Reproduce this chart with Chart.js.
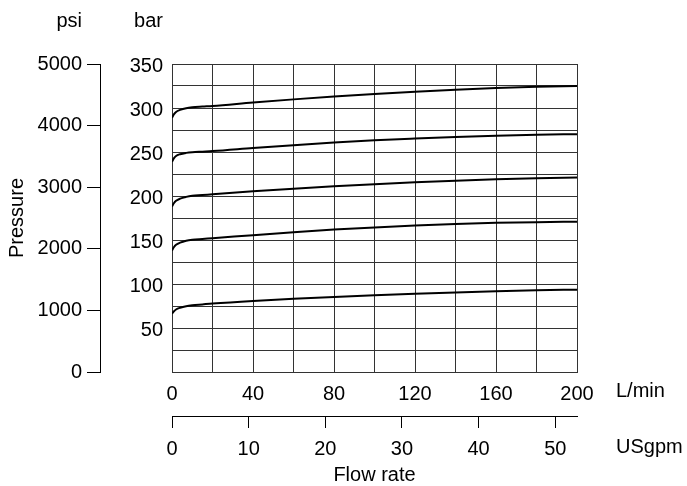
<!DOCTYPE html>
<html>
<head>
<meta charset="utf-8">
<script src="https://cdn.jsdelivr.net/npm/chart.js@4.4.1/dist/chart.umd.min.js"></script>
<style>
  html, body { margin: 0; padding: 0; background: #fff; }
  #wrap { width: 687px; height: 486px; position: relative; }
</style>
</head>
<body>
<div id="wrap"><canvas id="c"></canvas></div>
<script>
// Flow rate sample points (L/min)
const flowLpm = [0, 1, 2, 4, 7, 10, 15, 20, 40, 60, 80, 100, 120, 140, 160, 180, 200];
// Pressure curves (bar)
const curve300 = [289, 293, 295.5, 297.8, 299.8, 300.8, 301.6, 302.3, 306.2, 309.8, 313, 315.9, 318.5, 320.8, 322.8, 324.2, 325];
const curve250 = [239, 243, 245.5, 247.5, 249, 249.8, 250.4, 251, 254.5, 257.8, 260.8, 263.3, 265.3, 267.1, 268.6, 269.7, 270.3];
const curve200 = [188, 192, 194.5, 197, 199, 200.2, 201, 202, 205.3, 208.3, 211, 213.4, 215.5, 217.4, 218.9, 220.1, 221];
const curve150 = [138, 142, 144.5, 147, 149.2, 150.3, 151.2, 152, 155.5, 158.8, 161.8, 164.3, 166.4, 168.2, 169.5, 170.3, 170.8];
const curve75  = [66.5, 69, 71, 73, 74.8, 75.8, 76.8, 77.8, 80.8, 83.2, 85.3, 87.2, 88.9, 90.4, 91.7, 92.8, 93.6];

// Axis ranges / tick labels
const lpmRange = [0, 200];
const lpmGridStep = 20;
const lpmLabelStep = 40;
const barRange = [0, 350];
const barGridStep = 25;
const barLabelStep = 50;
const psiRange = [0, 5000];
const psiStep = 1000;
const usgpmPerLpm = 1 / 3.785411784;
const usgpmStep = 10;

const unitLabels = { psi: 'psi', bar: 'bar', lpm: 'L/min', usgpm: 'USgpm' };
const axisTitles = { pressure: 'Pressure', flow: 'Flow rate' };

const FONT = "'Liberation Sans', Arial, Helvetica, sans-serif";
const curves = [curve300, curve250, curve200, curve150, curve75];

const datasets = curves.map(c => ({
  data: flowLpm.map((x, i) => ({ x: x, y: c[i] })),
  borderColor: '#000',
  borderWidth: 2,
  pointRadius: 0,
  fill: false,
  cubicInterpolationMode: 'monotone',
  xAxisID: 'x',
  yAxisID: 'y'
}));

const unitPlugin = {
  id: 'units',
  afterDraw(chart) {
    const ctx = chart.ctx;
    const ca = chart.chartArea;
    const s = chart.scales;
    ctx.save();
    ctx.fillStyle = '#000';
    ctx.font = '20px ' + FONT;
    ctx.textBaseline = 'alphabetic';
    ctx.textAlign = 'right';
    ctx.fillText(unitLabels.psi, s.psi.right - 18, ca.top - 37.5);
    ctx.fillText(unitLabels.bar, s.y.right - 9, ca.top - 37.5);
    ctx.textAlign = 'left';
    ctx.fillText(unitLabels.lpm, ca.right + 39, s.x.top + 25);
    ctx.fillText(unitLabels.usgpm, ca.right + 39, s.gpm.top + 37);
    ctx.restore();
  }
};

Chart.defaults.font.family = FONT;
Chart.defaults.font.size = 20;
Chart.defaults.color = '#000';

new Chart(document.getElementById('c'), {
  type: 'line',
  data: { datasets },
  plugins: [unitPlugin],
  options: {
    responsive: true,
    maintainAspectRatio: false,
    animation: false,
    events: [],
    layout: { padding: { left: 0, top: 64, right: 110, bottom: 0 } },
    plugins: { legend: { display: false }, tooltip: { enabled: false } },
    scales: {
      x: {
        type: 'linear', position: 'bottom', weight: 0,
        min: lpmRange[0], max: lpmRange[1],
        grid: { color: '#333', lineWidth: 1, drawTicks: false },
        border: { display: true, color: '#333', width: 1 },
        ticks: {
          stepSize: lpmGridStep, padding: 10, maxRotation: 0, autoSkip: false,
          callback: v => (v % lpmLabelStep === 0 ? String(v) : '')
        },
        afterFit: sc => { sc.height = 44; }
      },
      gpm: {
        type: 'linear', position: 'bottom', weight: 1,
        min: lpmRange[0] * usgpmPerLpm, max: lpmRange[1] * usgpmPerLpm,
        grid: { drawOnChartArea: false, drawTicks: true, tickLength: 12, color: '#000', lineWidth: 1 },
        border: { display: true, color: '#000', width: 1 },
        ticks: { stepSize: usgpmStep, padding: 9, includeBounds: false, maxRotation: 0, autoSkip: false,
          callback: v => String(v) },
        title: { display: true, text: axisTitles.flow, font: { size: 20, lineHeight: 1 }, padding: { top: 0, bottom: 1 } },
        afterFit: sc => { sc.height = 70; }
      },
      y: {
        type: 'linear', position: 'left', weight: 0,
        min: barRange[0], max: barRange[1],
        grid: { color: '#333', lineWidth: 1, drawTicks: false },
        border: { display: true, color: '#333', width: 1 },
        ticks: {
          stepSize: barGridStep, padding: 9, labelOffset: 2.5, autoSkip: false,
          callback: v => (v % barLabelStep === 0 && v > 0 ? String(v) : '')
        },
        afterFit: sc => { sc.width = 72; }
      },
      psi: {
        type: 'linear', position: 'left', weight: 1,
        min: psiRange[0], max: psiRange[1],
        grid: { drawOnChartArea: false, drawTicks: true, tickLength: 13, color: '#000', lineWidth: 1 },
        border: { display: true, color: '#000', width: 1 },
        ticks: { stepSize: psiStep, padding: 5, autoSkip: false, callback: v => String(v) },
        title: { display: true, text: axisTitles.pressure, font: { size: 20, lineHeight: 1.2 }, padding: { top: 5.5, bottom: 0 } },
        afterFit: sc => { sc.width = 100; }
      }
    }
  }
});
</script>
</body>
</html>
